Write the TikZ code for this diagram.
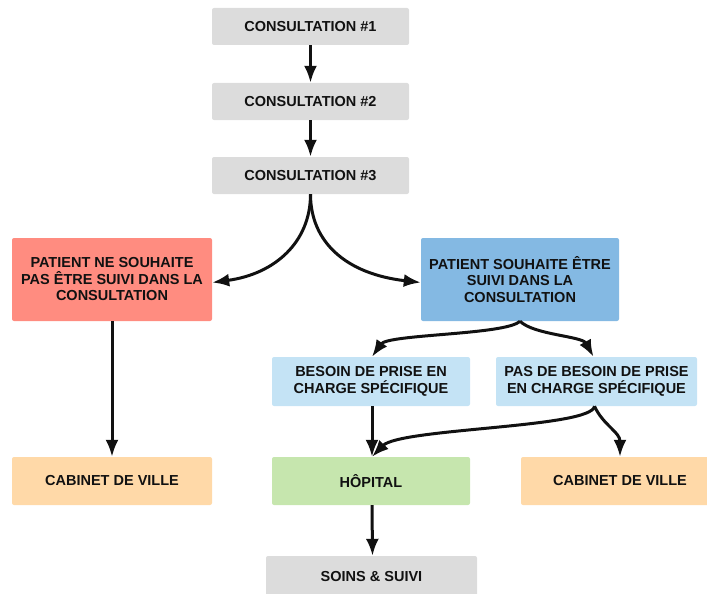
\documentclass[tikz,border=0pt]{standalone}
\usepackage{fontspec}
\setmainfont{Liberation Sans}
\usetikzlibrary{arrows.meta}
\definecolor{greybox}{HTML}{DCDCDC}
\definecolor{redbox}{HTML}{FF8C80}
\definecolor{bluebox}{HTML}{84B9E3}
\definecolor{lightblue}{HTML}{C4E3F5}
\definecolor{peach}{HTML}{FFD9A8}
\definecolor{greenbox}{HTML}{C6E6AE}
\definecolor{ink}{HTML}{111111}
\tikzset{
  box/.style={rectangle, rounded corners=2pt, draw=none, align=center,
    font=\fontsize{14.5}{16.5}\selectfont\bfseries, text=ink, inner sep=0pt},
  arr/.style={line width=3pt, draw=ink, -{Latex[length=17pt,width=13pt]}},
}
\begin{document}
\begin{tikzpicture}[x=1pt,y=-1pt]
\path[use as bounding box] (0,0) rectangle (707,594);
\clip (0,0) rectangle (707,594);
\node[box, fill=greybox, minimum width=197pt, minimum height=37pt] (c1) at (310.5,26.5) {CONSULTATION \#1};
\node[box, fill=greybox, minimum width=197pt, minimum height=37pt] (c2) at (310.5,101.5) {CONSULTATION \#2};
\node[box, fill=greybox, minimum width=197pt, minimum height=37pt] (c3) at (310.5,175.5) {CONSULTATION \#3};
\node[box, fill=redbox, minimum width=200pt, minimum height=83pt] (red) at (112,279.5) {PATIENT NE SOUHAITE\\PAS ÊTRE SUIVI DANS LA\\CONSULTATION};
\node[box, fill=bluebox, minimum width=198pt, minimum height=83pt] (blue) at (520,279.5) {PATIENT SOUHAITE ÊTRE\\SUIVI DANS LA\\CONSULTATION};
\node[box, fill=lightblue, minimum width=198pt, minimum height=49pt] (bes) at (371,381.5) {BESOIN DE PRISE EN\\CHARGE SPÉCIFIQUE};
\node[box, fill=lightblue, minimum width=201pt, minimum height=49pt] (pas) at (596.5,381.5) {PAS DE BESOIN DE PRISE\\EN CHARGE SPÉCIFIQUE};
\node[box, fill=peach, minimum width=200pt, minimum height=48pt] (cab1) at (112,481) {CABINET DE VILLE};
\node[box, fill=greenbox, minimum width=198pt, minimum height=48pt] (hop) at (371,481) {HÔPITAL};
\node[box, fill=peach, minimum width=198pt, minimum height=48pt] (cab2) at (620,481) {CABINET DE VILLE};
\node[box, fill=greybox, minimum width=211pt, minimum height=42pt] (soins) at (371.5,577) {SOINS \& SUIVI};
% connectors
\draw[arr] (c1.south) -- (c2.north);
\draw[arr] (c2.south) -- (c3.north);
\draw[arr] (c3.south) .. controls (310.5,242) and (275,274) .. ([yshift=-3pt]red.east);
\draw[arr] (c3.south) .. controls (310.5,242) and (346,274) .. ([yshift=-3pt]blue.west);
\draw[arr] (red.south) -- (cab1.north);
\draw[arr] (blue.south) .. controls (506,335) and (388,334) .. ([xshift=1pt]bes.north);
\draw[arr] (blue.south) .. controls (534,335) and (582,336) .. ([xshift=-3pt]pas.north);
\draw[arr] ([xshift=1pt]bes.south) -- ([xshift=1pt]hop.north);
\draw[arr] ([xshift=-2pt]pas.south) .. controls (592,428) and (400,428) .. ([xshift=1pt]hop.north);
\draw[arr] ([xshift=-2pt]pas.south) .. controls (603,425) and (620,432) .. (cab2.north);
\draw[arr] ([xshift=1pt]hop.south) -- ([xshift=1pt]soins.north);
\end{tikzpicture}
\end{document}
